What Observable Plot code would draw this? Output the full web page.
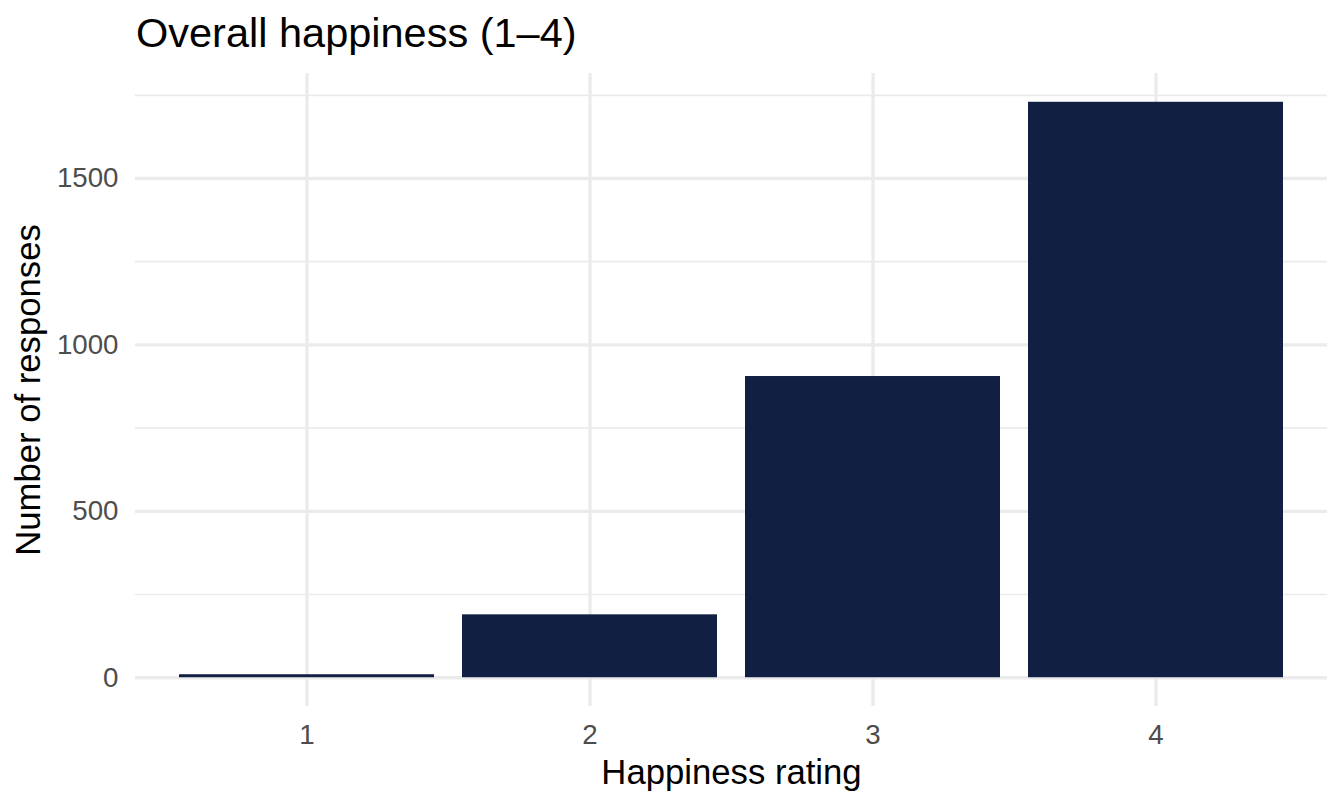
<!DOCTYPE html>
<html>
<head>
<meta charset="utf-8">
<script src="https://cdn.jsdelivr.net/npm/d3@7"></script>
<script src="https://cdn.jsdelivr.net/npm/@observablehq/plot@0.6"></script>
<style>
  html, body { margin: 0; padding: 0; background: #fff; }
  body { width: 1344px; height: 806px; overflow: hidden; font-family: "Liberation Sans", Arial, sans-serif; }
  #title { height: 54px; padding-top: 12px; padding-left: 136px; font-size: 41.5px; line-height: 41.5px; color: #000; white-space: nowrap; box-sizing: content-box; }
  #chart svg { display: block; }
</style>
</head>
<body>
<div id="title">Overall happiness (1–4)</div>
<div id="chart"></div>
<script>
const ratings = ["1", "2", "3", "4"];
const counts = [9, 189, 905, 1729];
const yMajorTicks = [0, 500, 1000, 1500];
const yMinorTicks = [250, 750, 1250, 1750];
const xLabel = "Happiness rating";
const yLabel = "Number of responses";

const data = ratings.map((r, i) => ({rating: r, count: counts[i]}));
const maxCount = d3.max(counts);
const pad = maxCount * 0.05;

const grid = "#EBEBEB";
const chart = Plot.plot({
  width: 1344,
  height: 740,
  marginLeft: 135,
  marginRight: 17,
  marginTop: 7,
  marginBottom: 100,
  style: {fontFamily: "Liberation Sans, Arial, sans-serif", background: "#fff"},
  x: {domain: ratings, paddingInner: 0.1, paddingOuter: 0.15, align: 0.5},
  y: {domain: [-pad, maxCount + pad]},
  marks: [
    Plot.ruleY(yMinorTicks, {stroke: grid, strokeWidth: 1.7}),
    Plot.ruleY(yMajorTicks, {stroke: grid, strokeWidth: 3.3}),
    Plot.ruleX(ratings, {x: d => d, stroke: grid, strokeWidth: 3.3}),
    Plot.barY(data, {x: "rating", y: "count", fill: "#111F42"}),
    Plot.axisY(yMajorTicks, {
      tickSize: 0, tickPadding: 17, fontSize: 27.7, color: "#4D4D4D",
      tickFormat: d3.format("d"),
      label: yLabel, labelAnchor: "center", labelArrow: "none", labelOffset: 120
    }),
    Plot.axisX(ratings, {
      tickSize: 0, tickPadding: 18, fontSize: 27.7, color: "#4D4D4D",
      label: xLabel, labelAnchor: "center", labelArrow: "none", labelOffset: 77
    })
  ]
});
document.getElementById("chart").appendChild(chart);
// axis titles in black, larger
chart.querySelectorAll("g[aria-label='x-axis label'] text, g[aria-label='y-axis label'] text").forEach(t => {
  t.setAttribute("fill", "#000");
  t.style.fontSize = "34.7px";
});
chart.querySelectorAll("g[aria-label='x-axis label'], g[aria-label='y-axis label']").forEach(g => {
  g.setAttribute("fill", "#000");
  g.setAttribute("font-size", "34.7");
});
</script>
</body>
</html>
